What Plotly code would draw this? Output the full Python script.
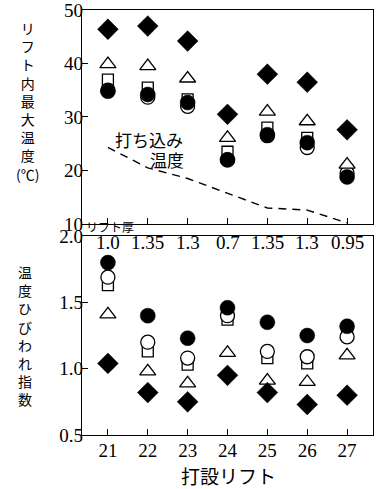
import plotly.graph_objects as go

lifts = [21, 22, 23, 24, 25, 26, 27]
lift_thickness = ["1.0", "1.35", "1.3", "0.7", "1.35", "1.3", "0.95"]

# Top panel: maximum temperature inside lift (deg C)
temp_diamond = [46.4, 47.0, 44.2, 30.5, 38.0, 36.5, 27.6]
temp_triangle = [39.9, 39.5, 37.2, 26.1, 31.0, 29.2, 21.1]
temp_square = [37.0, 35.5, 33.3, 23.5, 28.0, 26.1, 20.1]
temp_open_circle = [35.0, 33.7, 32.0, 22.0, 26.5, 24.3, 19.5]
temp_filled_circle = [34.8, 34.2, 32.7, 22.0, 26.7, 25.2, 18.8]
placing_temp = [24.3, 20.5, 18.5, 15.8, 13.0, 12.6, 10.2]

# Bottom panel: thermal cracking index
idx_diamond = [1.04, 0.82, 0.75, 0.95, 0.82, 0.73, 0.80]
idx_triangle = [1.41, 0.98, 0.89, 1.12, 0.91, 0.90, 1.10]
idx_square = [1.63, 1.13, 1.03, 1.37, 1.08, 1.04, 1.27]
idx_open_circle = [1.69, 1.20, 1.08, 1.40, 1.13, 1.09, 1.24]
idx_filled_circle = [1.80, 1.40, 1.23, 1.46, 1.35, 1.25, 1.32]

top_ticks = [10, 20, 30, 40, 50]
bot_ticks = [0.5, 1.0, 1.5, 2.0]
bot_ticktext = ["0.5", "1.0", "1.5", "2.0"]

fig = go.Figure()

def add_series(y, xa, ya, symbol, size, fill, line_w=1.3):
    fig.add_trace(go.Scatter(
        x=lifts, y=y, mode="markers", xaxis=xa, yaxis=ya, showlegend=False,
        marker=dict(symbol=symbol, size=size, color=fill,
                    line=dict(color="black", width=line_w)),
        cliponaxis=False))

for xa, ya, d, t, s, oc, fc in [
    ("x", "y", temp_diamond, temp_triangle, temp_square, temp_open_circle, temp_filled_circle),
    ("x2", "y2", idx_diamond, idx_triangle, idx_square, idx_open_circle, idx_filled_circle),
]:
    add_series(s, xa, ya, "square", 11, "white")
    add_series(oc, xa, ya, "circle", 14, "white")
    add_series(t, xa, ya, "triangle-up", 14, "white")
    add_series(d, xa, ya, "diamond", 16, "black", 0.5)
    add_series(fc, xa, ya, "circle", 15, "black", 0.5)

fig.add_trace(go.Scatter(
    x=lifts, y=placing_temp, mode="lines", xaxis="x", yaxis="y", showlegend=False,
    line=dict(color="black", width=1.4, dash="8px,6px")))

tickfont = dict(family="Liberation Serif, DejaVu Serif, serif", size=19, color="black")
axis_common = dict(showline=True, linecolor="black", linewidth=1.3, mirror=True,
                   ticks="inside", ticklen=6, tickcolor="black", tickwidth=1,
                   showgrid=False, zeroline=False, tickfont=tickfont,
                   ticklabeloverflow="allow")

fig.update_layout(
    width=382, height=489,
    margin=dict(l=82, r=9, t=10, b=54, autoexpand=False),
    paper_bgcolor="white", plot_bgcolor="white",
    xaxis=dict(domain=[0, 1], anchor="y", range=[20.35, 27.65], tickvals=lifts,
               showticklabels=False, **axis_common),
    yaxis=dict(domain=[0.4965, 1], anchor="x", range=[10, 50], tickvals=top_ticks,
               ticklabelstandoff=-6, **axis_common),
    xaxis2=dict(domain=[0, 1], anchor="y2", range=[20.35, 27.65], tickvals=lifts,
                ticklabelstandoff=-2, **axis_common),
    yaxis2=dict(domain=[0, 0.468], anchor="x2", range=[0.5, 2.0], tickvals=bot_ticks,
                ticktext=bot_ticktext, ticklabelstandoff=-6, **axis_common),
)

cjk = "Noto Sans CJK JP"
ann = []
# y-axis titles (vertical stacked); y given as pixel of the top
ann.append(dict(text="<br>".join(list("リフト内最大温度")) + "<br>(℃)",
                x=27, y=16, yanchor="top", font=dict(family=cjk, size=14, color="black")))
ann.append(dict(text="<br>".join(list("温度ひびわれ指数")),
                x=25, y=260, yanchor="top", font=dict(family=cjk, size=14, color="black")))
ann.append(dict(text="打設リフト", x=228, y=475, yanchor="middle",
                font=dict(family=cjk, size=19, color="black")))
ann.append(dict(text="打ち込み", x=149, y=139, yanchor="middle",
                font=dict(family=cjk, size=17, color="black")))
ann.append(dict(text="温度", x=167, y=159, yanchor="middle",
                font=dict(family=cjk, size=17, color="black")))
ann.append(dict(text="リフト厚", x=110, y=227, yanchor="middle",
                font=dict(family=cjk, size=12, color="black")))

# convert pixel positions to paper coords
pw, ph = 382 - 82 - 9, 489 - 10 - 54
final = []
for a in ann:
    a = dict(a)
    a["xref"] = "paper"; a["yref"] = "paper"
    a["showarrow"] = False
    a["xanchor"] = "center"
    a["x"] = (a["x"] - 82) / pw
    a["y"] = (435 - a["y"]) / ph
    final.append(a)

for lab, xv in zip(lift_thickness, lifts):
    final.append(dict(text=lab, x=xv, y=1.955, xref="x2", yref="y2", showarrow=False,
                      xanchor="center", yanchor="middle",
                      font=dict(family="Liberation Serif, DejaVu Serif, serif", size=19, color="black")))

fig.update_layout(annotations=final)
fig.write_html("out.html", config={"displayModeBar": False},
               post_script="document.body.style.margin='0';")
